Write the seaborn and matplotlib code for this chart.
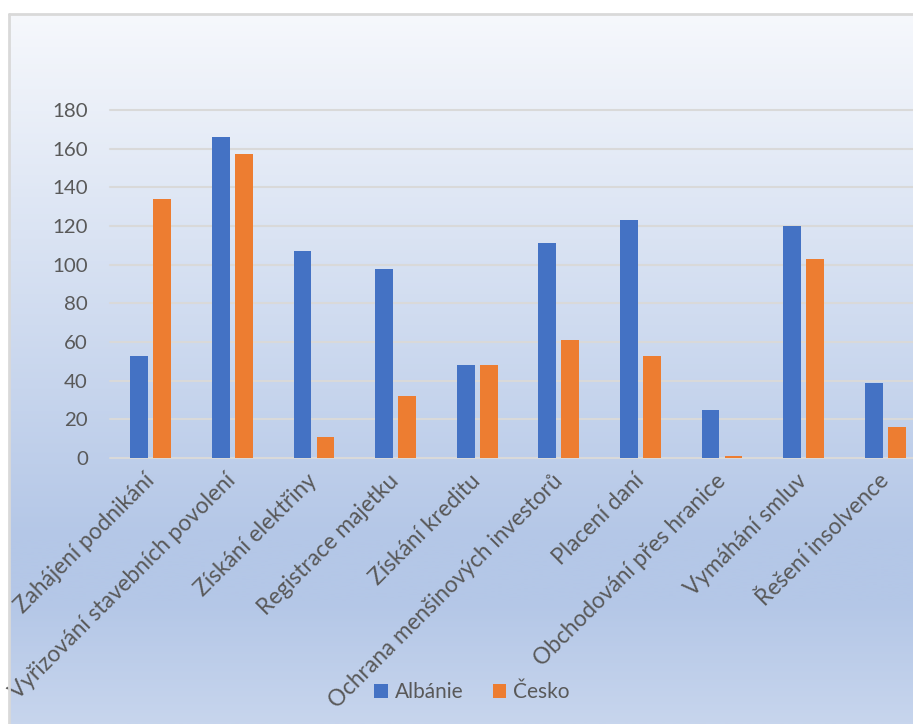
import numpy as np
import pandas as pd
import matplotlib
matplotlib.use("Agg")
import matplotlib.pyplot as plt
from matplotlib.colors import LinearSegmentedColormap
from matplotlib.patches import Patch
from matplotlib.lines import Line2D
import seaborn as sns

categories = [
    "Zahájení podnikání",
    "Vyřizování stavebních povolení",
    "Získání elektřiny",
    "Registrace majetku",
    "Získání kreditu",
    "Ochrana menšinových investorů",
    "Placení daní",
    "Obchodování přes hranice",
    "Vymáhání smluv",
    "Řešení insolvence",
]
albanie = [53, 166, 107, 98, 48, 111, 123, 25, 120, 39]
cesko = [134, 157, 11, 32, 48, 61, 53, 1, 103, 16]
series_names = ["Albánie", "Česko"]
y_ticks = [0, 20, 40, 60, 80, 100, 120, 140, 160, 180]

sns.set_theme(style="white")
plt.rcParams["font.family"] = ["Lato", "DejaVu Sans"]

blue = "#4472C4"
orange = "#ED7D31"
text_col = "#595959"
grid_col = "#D9D9D9"

W, H = 913, 724
fig = plt.figure(figsize=(W / 100, H / 100), dpi=100)
fig.patch.set_facecolor("white")

# gradient chart-area background
bx0, by_top = 9 / W, 1 - 14 / H
bg = fig.add_axes([bx0, 0, 1.05 - bx0, by_top], zorder=-5)
cmap = LinearSegmentedColormap.from_list(
    "g", [(0.0, "#F6F8FC"), (0.74, "#B4C7E7"), (0.83, "#B4C7E7"), (1.0, "#C7D5ED")]
)
grad = np.linspace(0, 1, 512).reshape(-1, 1)
bg.imshow(grad, aspect="auto", cmap=cmap, extent=[0, 1, 0, 1], origin="upper")
bg.set_axis_off()
fig.add_artist(Line2D([bx0, bx0], [0, by_top], color=grid_col, lw=2, transform=fig.transFigure))
fig.add_artist(Line2D([bx0, 1], [by_top, by_top], color=grid_col, lw=2, transform=fig.transFigure))

ax = fig.add_axes([110 / W, 1 - 458 / H, 816 / W, 348 / H])
ax.set_facecolor("none")

df = pd.DataFrame({
    "cat": categories * 2,
    "val": albanie + cesko,
    "country": [series_names[0]] * len(categories) + [series_names[1]] * len(categories),
})
sns.barplot(data=df, x="cat", y="val", hue="country", palette=[blue, orange],
            saturation=1, width=0.564, gap=0.22, linewidth=0, legend=False, ax=ax,
            order=categories, hue_order=series_names, zorder=3)

ax.set_ylim(0, 180)
ax.set_xlim(-0.5, len(categories) - 0.5)
ax.set_yticks(y_ticks)
ax.yaxis.grid(True, color=grid_col, lw=1.5, zorder=0)
ax.set_axisbelow(True)
for s in ax.spines.values():
    s.set_visible(False)
ax.set_xlabel("")
ax.set_ylabel("")
ax.tick_params(axis="y", length=0, pad=16, labelsize=14.7, labelcolor=text_col)
ax.tick_params(axis="x", length=0, pad=14, labelsize=16.3, labelcolor=text_col)
ax.set_xticks(range(len(categories)))
ax.set_xticklabels(categories, rotation=45, ha="right", rotation_mode="anchor", va="center")
for gl in ax.get_ygridlines():
    gl.set_clip_on(False)

handles = [Patch(facecolor=blue, edgecolor="none", label=series_names[0]),
           Patch(facecolor=orange, edgecolor="none", label=series_names[1])]
leg = fig.legend(handles=handles, loc="center", bbox_to_anchor=(472 / W, 1 - 692 / H),
                 ncol=2, frameon=False, fontsize=15, handlelength=0.65, handleheight=0.65,
                 handletextpad=0.35, columnspacing=1.4, labelcolor=text_col)

fig.savefig("out.png", dpi=100)
